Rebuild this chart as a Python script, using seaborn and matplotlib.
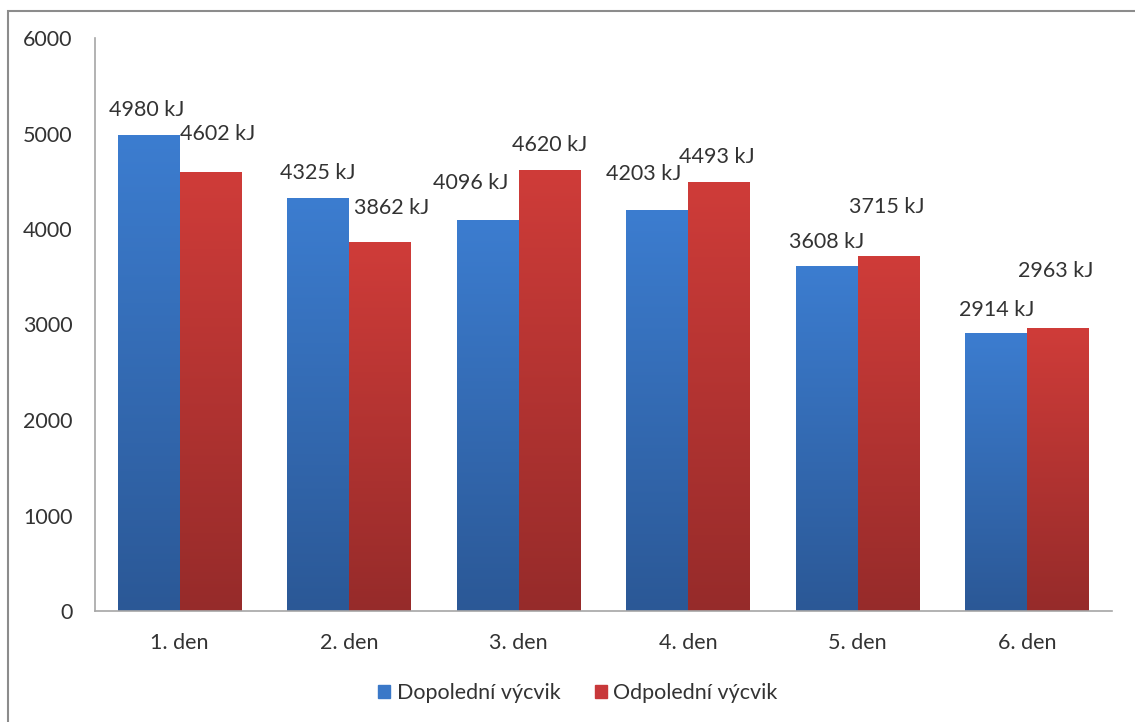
import numpy as np
import pandas as pd
import matplotlib
matplotlib.use("Agg")
import matplotlib.pyplot as plt
import matplotlib.patches as mpatches
from matplotlib.colors import LinearSegmentedColormap
import seaborn as sns

# Energy expenditure per training day
days = ["1. den", "2. den", "3. den", "4. den", "5. den", "6. den"]
morning = [4980, 4325, 4096, 4203, 3608, 2914]
afternoon = [4602, 3862, 4620, 4493, 3715, 2963]
series = ["Dopolední výcvik", "Odpolední výcvik"]

# Label nudges in pixels (dx, dy above bar top) so captions don't collide
morning_nudge = [(-2, 25), (-1, 25), (-17, 37), (-14, 36), (0, 24), (0, 23)]
afternoon_nudge = [(7, 38), (11, 34), (0, 25), (-2, 25), (-2, 49), (-2, 57)]

df = pd.DataFrame({
    "den": days * 2,
    "kJ": morning + afternoon,
    "série": [series[0]] * len(days) + [series[1]] * len(days),
})

sns.set_theme(style="white")
plt.rcParams["font.family"] = ["Lato", "DejaVu Sans"]

blue_top, blue_bot = "#3c7dd0", "#2b5896"
red_top, red_bot = "#cf3c39", "#962b2a"
fs = 15.5

fig = plt.figure(figsize=(11.35, 7.22), dpi=100)
ax = fig.add_axes([95 / 1135, 1 - 611 / 722, (1112 - 95) / 1135, 573 / 722])

sns.barplot(data=df, x="den", y="kJ", hue="série", hue_order=series,
            palette=[blue_top, red_top], width=0.73, gap=0,
            linewidth=0, legend=False, ax=ax)

ax.set_ylim(0, 6000)
ax.set_yticks(range(0, 6001, 1000))
ax.set_xlabel("")
ax.set_ylabel("")
text_col = "#333333"
ax.tick_params(axis="y", labelsize=fs, colors=text_col, pad=16, length=0)
ax.tick_params(axis="x", labelsize=fs, colors=text_col, pad=16, length=0)
for side in ["top", "right"]:
    ax.spines[side].set_visible(False)
for side in ["left", "bottom"]:
    ax.spines[side].set_color("#a6a6a6")
    ax.spines[side].set_linewidth(1.2)

# Vertical gradient fill for each bar, clipped to the bar rectangle
grad = np.linspace(0, 1, 256).reshape(-1, 1)
cmaps = [LinearSegmentedColormap.from_list("b", [blue_bot, blue_top]),
         LinearSegmentedColormap.from_list("r", [red_bot, red_top])]
bars = [p for p in ax.patches if isinstance(p, mpatches.Rectangle) and p.get_height() > 0]
n = len(days)
for i, bar in enumerate(bars):
    x0, w, h = bar.get_x(), bar.get_width(), bar.get_height()
    im = ax.imshow(grad, cmap=cmaps[i // n], aspect="auto", origin="lower",
                   extent=(x0, x0 + w, 0, h), zorder=bar.get_zorder() + 0.1,
                   interpolation="bilinear")
    im.set_clip_path(bar)
ax.set_xlim(-0.5, n - 0.5)
ax.set_ylim(0, 6000)

# Value captions
for i, bar in enumerate(bars):
    k = i // n
    j = i % n
    val = (morning if k == 0 else afternoon)[j]
    dx, dy = (morning_nudge if k == 0 else afternoon_nudge)[j]
    ax.annotate(f"{val} kJ", (bar.get_x() + bar.get_width() / 2, val),
                xytext=(dx, dy), textcoords="offset pixels",
                ha="center", va="center", fontsize=fs, color=text_col,
                zorder=5, annotation_clip=False)

# Legend below the axes
handles = [mpatches.Patch(color=c, label=s)
           for c, s in zip(["#3a78c8", "#c8383a"], series)]
fig.legend(handles=handles, loc="center", bbox_to_anchor=(578 / 1135, 1 - 693 / 722),
           ncol=2, frameon=False, fontsize=fs, handlelength=0.55, handleheight=0.55,
           handletextpad=0.3, columnspacing=1.6, labelcolor=text_col)

# Outer chart frame (left and top edges visible)
frame = mpatches.Rectangle((8 / 1135, -0.05), 1.2, 1 - 11 / 722 + 0.05,
                           transform=fig.transFigure, fill=False,
                           edgecolor="#8c8c8c", linewidth=1.5)
fig.add_artist(frame)

fig.savefig("out.png", dpi=100)
